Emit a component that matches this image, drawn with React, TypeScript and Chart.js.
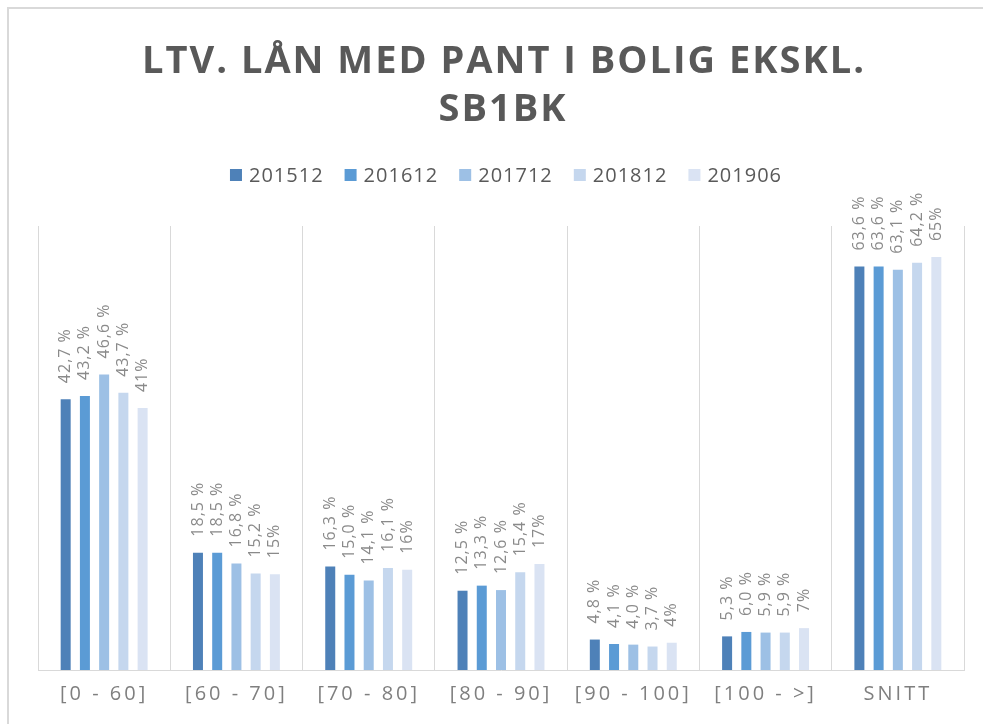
import React, { useEffect, useRef } from 'react';
import { Chart, registerables } from 'chart.js';

Chart.register(...registerables);

const TITLE_LINES = ['LTV. LÅN MED PANT I BOLIG EKSKL.', 'SB1BK'];
const CATEGORIES = ['[0 - 60]', '[60 - 70]', '[70 - 80]', '[80 - 90]', '[90 - 100]', '[100 - >]', 'SNITT'];
const SERIES_NAMES = ['201512', '201612', '201712', '201812', '201906'];
const S201512 = [42.7, 18.5, 16.3, 12.5, 4.8, 5.3, 63.6];
const S201612 = [43.2, 18.5, 15.0, 13.3, 4.1, 6.0, 63.6];
const S201712 = [46.6, 16.8, 14.1, 12.6, 4.0, 5.9, 63.1];
const S201812 = [43.7, 15.2, 16.1, 15.4, 3.7, 5.9, 64.2];
const S201906 = [41.3, 15.1, 15.8, 16.7, 4.3, 6.6, 65.1];
const SERIES_VALUES = [S201512, S201612, S201712, S201812, S201906];
const LABEL_DECIMALS = [1, 1, 1, 1, 0];
const COLORS = ['#4e81b8', '#5b9bd5', '#9dc0e5', '#c5d7ee', '#dae3f3'];
const Y_MIN = 0;
const Y_MAX = 70;

const FONT = '"Open Sans", "DejaVu Sans", sans-serif';

function formatLabel(v: number, decimals: number): string {
  if (decimals === 0) return Math.round(v) + '%';
  return v.toFixed(decimals).replace('.', ',') + ' %';
}

const decorPlugin = {
  id: 'decor',
  beforeUpdate(chart: any) {
    chart.ctx.letterSpacing = '3px';
  },
  beforeDraw(chart: any) {
    const ctx = chart.ctx;
    ctx.letterSpacing = '3px';
    ctx.save();
    ctx.strokeStyle = '#d9d9d9';
    ctx.lineWidth = 2;
    ctx.beginPath();
    ctx.moveTo(8, chart.height);
    ctx.lineTo(8, 8);
    ctx.lineTo(chart.width, 8);
    ctx.stroke();
    ctx.restore();
  },
  afterDatasetsDraw(chart: any) {
    const ctx = chart.ctx;
    ctx.save();
    ctx.letterSpacing = '1px';
    ctx.font = '16px ' + FONT;
    ctx.fillStyle = '#8a8a8a';
    ctx.textAlign = 'left';
    ctx.textBaseline = 'middle';
    chart.data.datasets.forEach((ds: any, i: number) => {
      const meta = chart.getDatasetMeta(i);
      meta.data.forEach((bar: any, j: number) => {
        const p = bar.getProps(['x', 'y'], true);
        ctx.save();
        ctx.translate(p.x, p.y - 16);
        ctx.rotate(-Math.PI / 2);
        ctx.fillText(formatLabel(ds.data[j], LABEL_DECIMALS[i]), 0, 0);
        ctx.restore();
      });
    });
    ctx.restore();
  },
  afterDraw(chart: any) {
    const ctx = chart.ctx;
    // title
    ctx.save();
    ctx.letterSpacing = '2px';
    ctx.font = 'bold 38px ' + FONT;
    ctx.fillStyle = '#595959';
    ctx.textAlign = 'center';
    ctx.textBaseline = 'alphabetic';
    ctx.fillText(TITLE_LINES[0], 504, 73);
    ctx.fillText(TITLE_LINES[1], 503, 121);
    ctx.restore();
    // legend
    ctx.save();
    ctx.letterSpacing = '1px';
    ctx.font = '20px ' + FONT;
    ctx.textBaseline = 'middle';
    ctx.textAlign = 'left';
    const box = 12, gap = 7, itemGap = 21;
    const widths = SERIES_NAMES.map((n) => ctx.measureText(n).width);
    const total = widths.reduce((a, w) => a + box + gap + w, 0) + itemGap * (SERIES_NAMES.length - 1);
    let x = 506 - total / 2;
    const cy = 175;
    SERIES_NAMES.forEach((n, i) => {
      ctx.fillStyle = COLORS[i];
      ctx.fillRect(x, cy - box / 2, box, box);
      ctx.fillStyle = '#595959';
      ctx.fillText(n, x + box + gap, cy + 1);
      x += box + gap + widths[i] + itemGap;
    });
    ctx.restore();
  },
};

export default function App() {
  const ref = useRef<HTMLCanvasElement>(null);
  useEffect(() => {
    const canvas = ref.current;
    if (!canvas) return;
    const chart = new Chart(canvas, {
      type: 'bar',
      data: {
        labels: CATEGORIES,
        datasets: SERIES_NAMES.map((name, i) => ({
          label: name,
          data: SERIES_VALUES[i],
          backgroundColor: COLORS[i],
          borderWidth: 0,
          categoryPercentage: 0.727,
          barPercentage: 0.52,
        })),
      },
      options: {
        animation: false,
        responsive: true,
        maintainAspectRatio: false,
        layout: { padding: { top: 226, left: 38, right: 19, bottom: 6 } },
        plugins: {
          legend: { display: false },
          title: { display: false },
          tooltip: { enabled: false },
        },
        scales: {
          x: {
            offset: true,
            grid: { display: true, offset: true, color: '#d9d9d9', lineWidth: 1, drawTicks: false },
            border: { display: true, color: '#d9d9d9', width: 1 },
            ticks: {
              color: '#7f7f7f',
              font: { family: FONT, size: 20 },
              padding: 12,
              autoSkip: false,
              maxRotation: 0,
              minRotation: 0,
            },
          },
          y: {
            display: false,
            min: Y_MIN,
            max: Y_MAX,
          },
        },
      },
      plugins: [decorPlugin],
    });
    return () => chart.destroy();
  }, []);
  return (
    <div style={{ position: 'fixed', left: 0, top: 0, width: 983, height: 724, background: '#ffffff' }}>
      <canvas ref={ref} />
    </div>
  );
}
